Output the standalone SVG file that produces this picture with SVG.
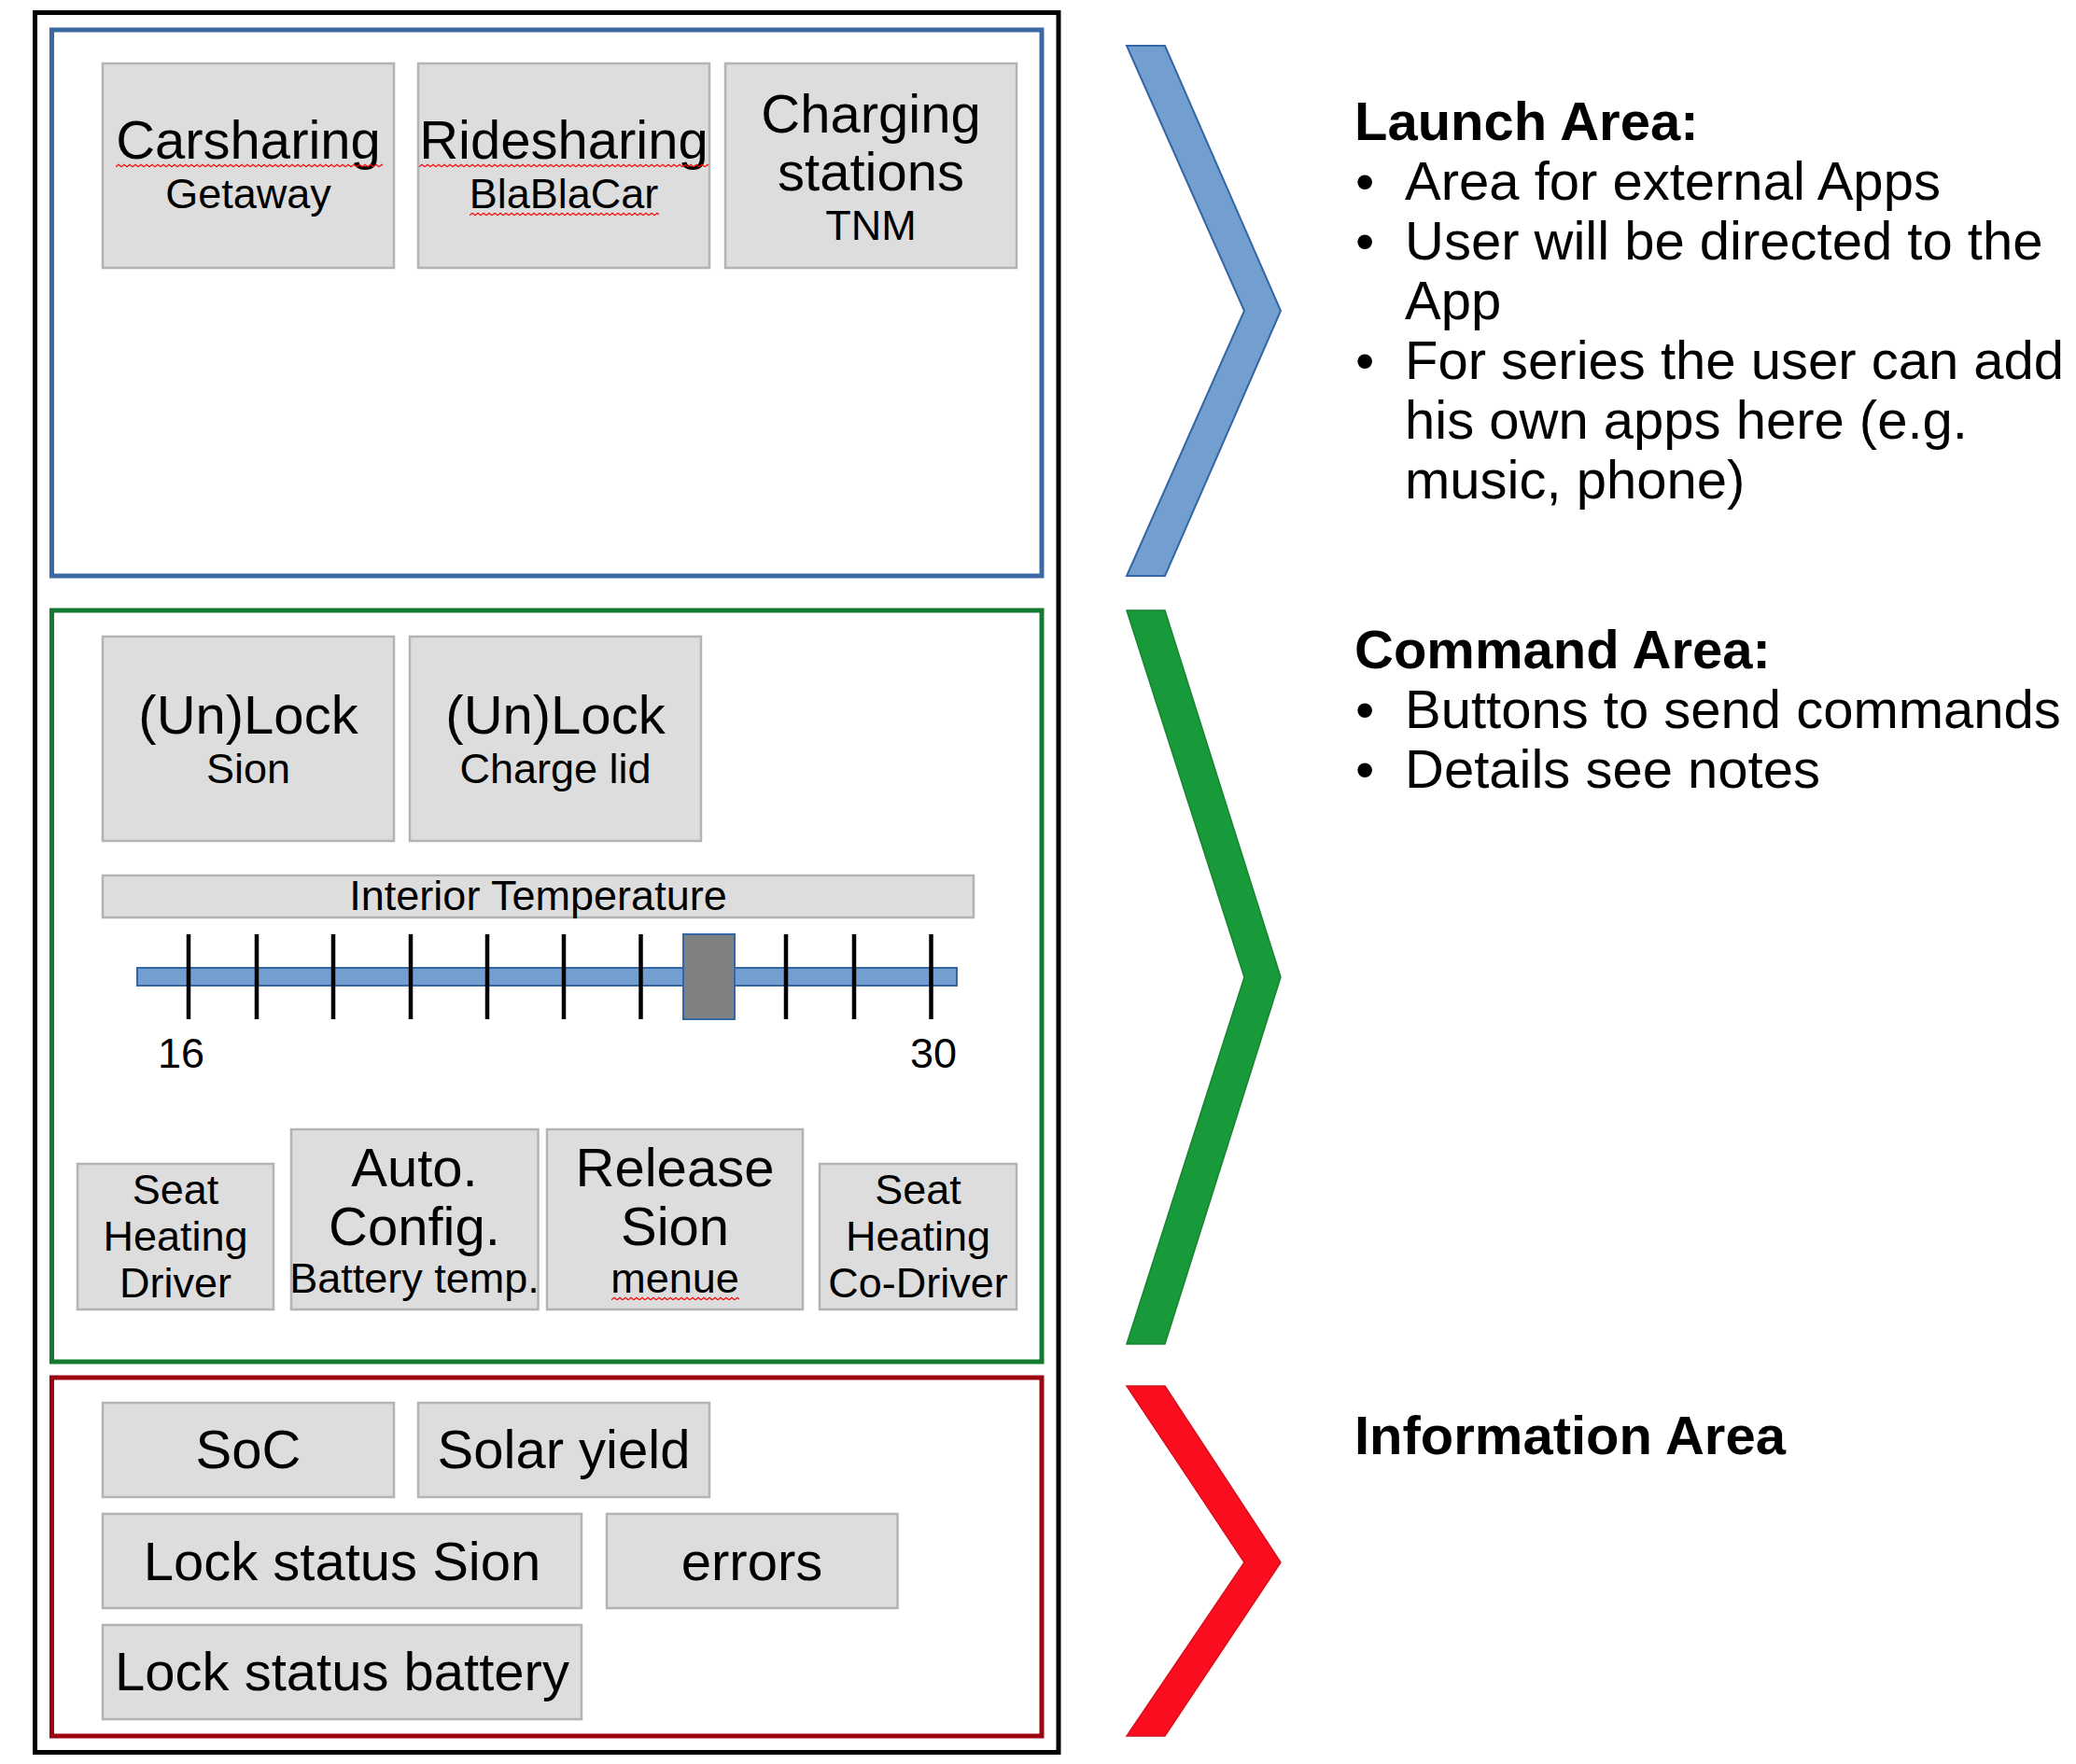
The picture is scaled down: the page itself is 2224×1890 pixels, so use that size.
<svg xmlns="http://www.w3.org/2000/svg" width="2224" height="1890" viewBox="0 0 2224 1890">
<style>
.t{font-family:"Liberation Sans",Arial,sans-serif;fill:#000}
.b{font-size:58px}
.s{font-size:45px}
.m{text-anchor:middle}
.hd{font-weight:bold}
.tile{fill:#dddddd;stroke:#b3b3b3;stroke-width:2.5}
.frame{fill:none;stroke-width:5}
.tick{stroke:#000;stroke-width:4.5}
</style>
<defs>
<pattern id="wave" width="6" height="5" patternUnits="userSpaceOnUse">
<path d="M0 3.8 L3 1.2 L6 3.8" fill="none" stroke="#ff0000" stroke-width="1.2"/>
</pattern>
</defs>
<rect width="2224" height="1890" fill="#ffffff"/>

<g id="outer-frame">
<rect class="frame" x="37.5" y="13.5" width="1096.5" height="1864" stroke="#000000"/>
</g>

<g id="launch-area">
<rect class="frame" x="55.5" y="32" width="1060.5" height="585" stroke="#3c68a4"/>
</g>
<g id="command-area">
<rect class="frame" x="55.5" y="654" width="1060.5" height="805" stroke="#137a2f"/>
</g>
<g id="information-area">
<rect class="frame" x="55.5" y="1476" width="1060.5" height="384" stroke="#9b0512"/>
</g>

<g id="carsharing">
<rect class="tile" x="110" y="68" width="312" height="219"/>
<text class="t b m" x="266" y="170">Carsharing</text>
<text class="t s m" x="266" y="223">Getaway</text>
<g transform="translate(124,175)"><rect width="286" height="5" fill="url(#wave)"/></g>
</g>
<g id="ridesharing">
<rect class="tile" x="448" y="68" width="312" height="219"/>
<text class="t b m" x="604" y="170">Ridesharing</text>
<text class="t s m" x="604" y="223">BlaBlaCar</text>
<g transform="translate(449,175)"><rect width="310" height="5" fill="url(#wave)"/></g>
<g transform="translate(503,227)"><rect width="203" height="5" fill="url(#wave)"/></g>
</g>
<g id="charging-stations">
<rect class="tile" x="777" y="68" width="312" height="219"/>
<text class="t b m" x="933" y="142">Charging</text>
<text class="t b m" x="933" y="204">stations</text>
<text class="t s m" x="933" y="257">TNM</text>
</g>

<g id="unlock-sion">
<rect class="tile" x="110" y="682" width="312" height="219"/>
<text class="t b m" x="266" y="786">(Un)Lock</text>
<text class="t s m" x="266" y="839">Sion</text>
</g>
<g id="unlock-charge-lid">
<rect class="tile" x="439" y="682" width="312" height="219"/>
<text class="t b m" x="595" y="786">(Un)Lock</text>
<text class="t s m" x="595" y="839">Charge lid</text>
</g>

<g id="interior-temperature">
<rect class="tile" x="110" y="938" width="933" height="45"/>
<text class="t s m" x="576.5" y="975">Interior Temperature</text>
<rect x="147" y="1037" width="878" height="19" fill="#729fcf" stroke="#3465a4" stroke-width="2"/>
<line class="tick" x1="202" y1="1001" x2="202" y2="1092"/>
<line class="tick" x1="275" y1="1001" x2="275" y2="1092"/>
<line class="tick" x1="357" y1="1001" x2="357" y2="1092"/>
<line class="tick" x1="440" y1="1001" x2="440" y2="1092"/>
<line class="tick" x1="522" y1="1001" x2="522" y2="1092"/>
<line class="tick" x1="604" y1="1001" x2="604" y2="1092"/>
<line class="tick" x1="686.5" y1="1001" x2="686.5" y2="1092"/>
<line class="tick" x1="842" y1="1001" x2="842" y2="1092"/>
<line class="tick" x1="915" y1="1001" x2="915" y2="1092"/>
<line class="tick" x1="997.5" y1="1001" x2="997.5" y2="1092"/>
<rect x="732" y="1001" width="55" height="91" fill="#808080" stroke="#3465a4" stroke-width="2"/>
<text class="t s m" x="194" y="1144">16</text>
<text class="t s m" x="1000" y="1144">30</text>
</g>

<g id="seat-heating-driver">
<rect class="tile" x="83" y="1247" width="210" height="156"/>
<text class="t s m" x="188" y="1290">Seat</text>
<text class="t s m" x="188" y="1340">Heating</text>
<text class="t s m" x="188" y="1390">Driver</text>
</g>
<g id="auto-config">
<rect class="tile" x="312" y="1210" width="264.5" height="193"/>
<text class="t b m" x="444" y="1271">Auto.</text>
<text class="t b m" x="444" y="1334">Config.</text>
<text class="t s m" x="444" y="1385">Battery temp.</text>
</g>
<g id="release-sion">
<rect class="tile" x="586" y="1210" width="274" height="193"/>
<text class="t b m" x="723" y="1271">Release</text>
<text class="t b m" x="723" y="1334">Sion</text>
<text class="t s m" x="723" y="1385">menue</text>
<g transform="translate(655,1389)"><rect width="137" height="5" fill="url(#wave)"/></g>
</g>
<g id="seat-heating-codriver">
<rect class="tile" x="878" y="1247" width="211" height="156"/>
<text class="t s m" x="983.5" y="1290">Seat</text>
<text class="t s m" x="983.5" y="1340">Heating</text>
<text class="t s m" x="983.5" y="1390">Co-Driver</text>
</g>

<g id="soc">
<rect class="tile" x="110" y="1503" width="312" height="101"/>
<text class="t b m" x="266" y="1573">SoC</text>
</g>
<g id="solar-yield">
<rect class="tile" x="448" y="1503" width="312" height="101"/>
<text class="t b m" x="604" y="1573">Solar yield</text>
</g>
<g id="lock-status-sion">
<rect class="tile" x="110" y="1622" width="513" height="101"/>
<text class="t b m" x="366.5" y="1693">Lock status Sion</text>
</g>
<g id="errors">
<rect class="tile" x="650" y="1622" width="311.5" height="101"/>
<text class="t b m" x="805.5" y="1693">errors</text>
</g>
<g id="lock-status-battery">
<rect class="tile" x="110" y="1741" width="513" height="101"/>
<text class="t b m" x="366.5" y="1811">Lock status battery</text>
</g>

<g id="connectors">
<polygon points="1207,49 1248,49 1372,333 1248,617 1207,617 1333,333" fill="#729fcf" stroke="#3465a4" stroke-width="2"/>
<polygon points="1207,654 1248,654 1372,1047 1248,1440 1207,1440 1333,1047" fill="#18993a" stroke="#15852f" stroke-width="1.5"/>
<polygon points="1207,1485 1248,1485 1372,1674 1248,1860 1207,1860 1333,1674" fill="#fa0d1e" stroke="#d8101c" stroke-width="1.5"/>
</g>

<g id="launch-text">
<text class="t b hd" x="1451" y="150">Launch Area:</text>
<text class="t b" x="1452" y="214">•</text>
<text class="t b" x="1505" y="214">Area for external Apps</text>
<text class="t b" x="1452" y="278">•</text>
<text class="t b" x="1505" y="278">User will be directed to the</text>
<text class="t b" x="1505" y="342">App</text>
<text class="t b" x="1452" y="406">•</text>
<text class="t b" x="1505" y="406">For series the user can add</text>
<text class="t b" x="1505" y="470">his own apps here (e.g.</text>
<text class="t b" x="1505" y="534">music, phone)</text>
</g>
<g id="command-text">
<text class="t b hd" x="1451" y="716">Command Area:</text>
<text class="t b" x="1452" y="780">•</text>
<text class="t b" x="1505" y="780">Buttons to send commands</text>
<text class="t b" x="1452" y="844">•</text>
<text class="t b" x="1505" y="844">Details see notes</text>
</g>
<g id="information-text">
<text class="t b hd" x="1451" y="1558">Information Area</text>
</g>
</svg>
